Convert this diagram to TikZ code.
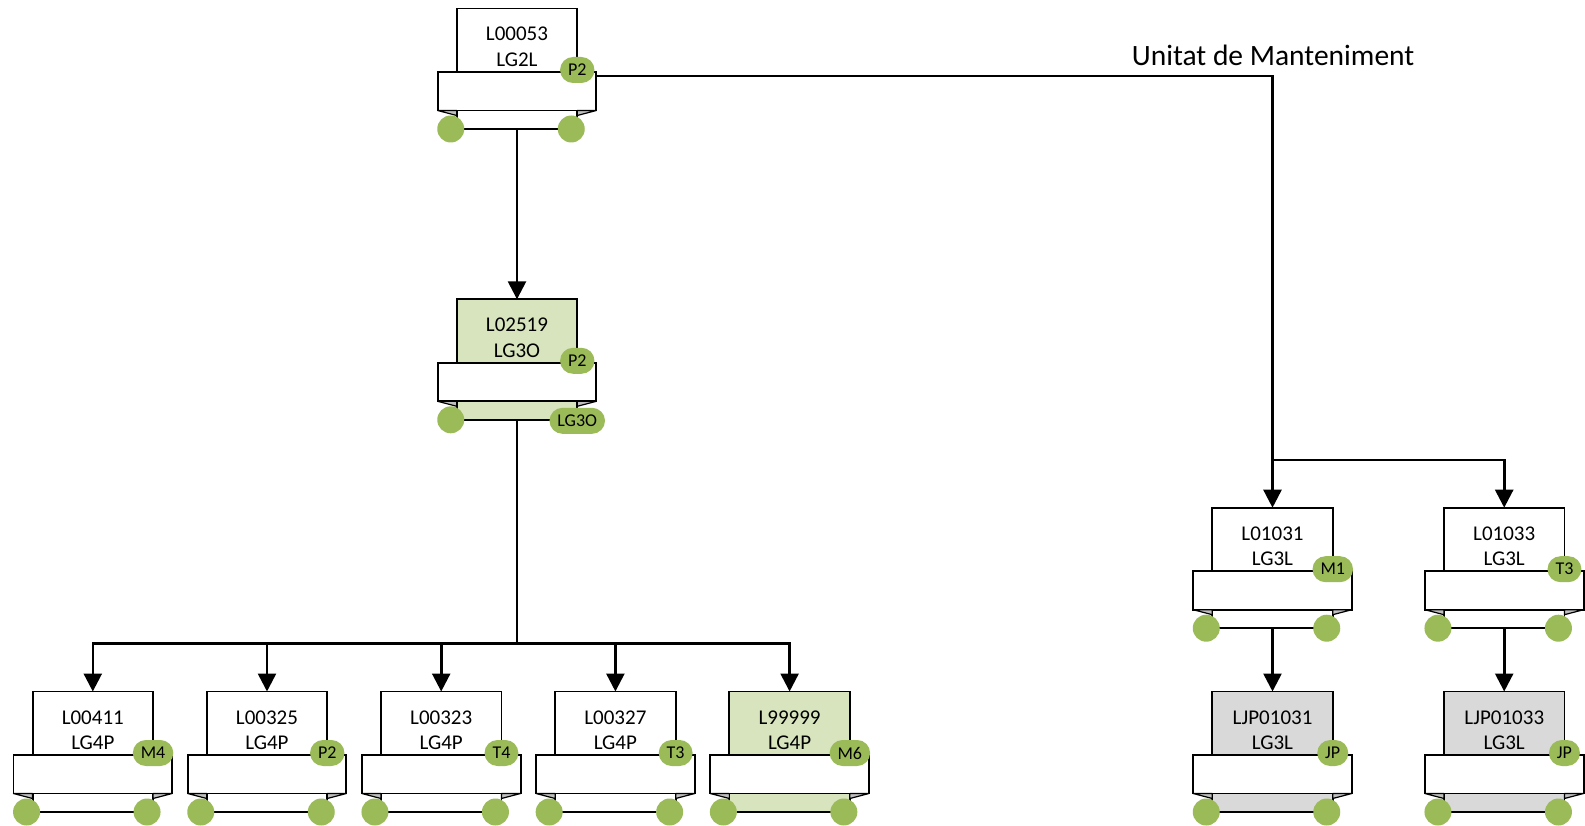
\documentclass[tikz,border=0pt]{standalone}
\usepackage{fontspec}
\setmainfont{Carlito}
\usetikzlibrary{arrows.meta}
\definecolor{cgreen}{HTML}{9BBB59}
\definecolor{lgreen}{HTML}{D7E4BD}
\definecolor{lgrey}{HTML}{D9D9D9}
\definecolor{foldc}{HTML}{BFBFBF}
\tikzset{
 topbox/.style={draw, line width=1.9pt, minimum width=120.5pt, minimum height=63.5pt, inner sep=0pt, outer sep=0pt, anchor=north},
 bannerbox/.style={draw, fill=white, line width=1.9pt, minimum width=158.7pt, minimum height=38.5pt, inner sep=0pt, outer sep=0pt, anchor=north},
 stripbox/.style={draw, line width=1.9pt, minimum width=120.5pt, minimum height=18.5pt, inner sep=0pt, outer sep=0pt, anchor=north},
 foldtri/.style={fill=foldc, draw, line width=1.2pt, line join=round},
 dot/.style={circle, fill=cgreen, minimum size=27pt, inner sep=0pt, outer sep=0pt},
 badge/.style={fill=cgreen, rounded corners=13pt, minimum height=26pt, minimum width=26pt, inner xsep=8pt, inner ysep=0pt, outer sep=0pt, font=\fontsize{18}{20}\selectfont},
 txt/.style={font=\fontsize{21}{25}\selectfont, anchor=base, inner sep=0pt},
 conn/.style={line width=2.6pt, -{Triangle[width=18pt,length=18pt]}},
 wire/.style={line width=2.6pt},
}
\newcommand{\orgbox}[8]{%
 \node[topbox, fill=#4] (#1) at (#2,#3) {};
 \node[bannerbox] (#1-b) at (#1.south) {};
 \node[stripbox, fill=#4] (#1-s) at (#1-b.south) {};
 \draw[foldtri] (#1-b.south west) -- (#1-s.north west) -- ([yshift=-5pt]#1-s.north west) -- cycle;
 \draw[foldtri] (#1-b.south east) -- (#1-s.north east) -- ([yshift=-5pt]#1-s.north east) -- cycle;
 \node[txt] (#1-t1) at ([yshift=-32.5pt]#1.north) {#5};
 \node[txt] (#1-t2) at ([yshift=-58pt]#1.north) {#6};
 \node[dot] (#1-c1) at ([xshift=-6pt]#1-s.south west) {};
 \def\tmpb{#8}%
 \ifx\tmpb\empty
   \node[dot] (#1-c2) at ([xshift=-6pt]#1-s.south east) {};
 \else
   \node[badge] (#1-c2) at ([yshift=-1pt]#1-s.south east) {#8};
 \fi
 \node[badge] (#1-g) at ([yshift=2pt]#1.south east) {#7};
}
\begin{document}
\begin{tikzpicture}[x=1pt,y=-1pt]
\useasboundingbox (0,0) rectangle (1585,826);
\orgbox{L00053}{517}{8.5}{white}{L00053}{LG2L}{P2}{}
\orgbox{L02519}{517}{299.3}{lgreen}{L02519}{LG3O}{P2}{LG3O}
\orgbox{L00411}{92.8}{691.5}{white}{L00411}{LG4P}{M4}{}
\orgbox{L00325}{267}{691.5}{white}{L00325}{LG4P}{P2}{}
\orgbox{L00323}{441.2}{691.5}{white}{L00323}{LG4P}{T4}{}
\orgbox{L00327}{615.4}{691.5}{white}{L00327}{LG4P}{T3}{}
\orgbox{L99999}{789.6}{691.5}{lgreen}{L99999}{LG4P}{M6}{}
\orgbox{L01031}{1272.5}{507.7}{white}{L01031}{LG3L}{M1}{}
\orgbox{L01033}{1504.2}{507.7}{white}{L01033}{LG3L}{T3}{}
\orgbox{LJP01031}{1272.5}{691.5}{lgrey}{LJP01031}{LG3L}{JP}{}
\orgbox{LJP01033}{1504.2}{691.5}{lgrey}{LJP01033}{LG3L}{JP}{}
\node[font=\fontsize{29.5}{34}\selectfont, anchor=base west, inner sep=0pt] (title) at (1131.7,66) {Unitat de Manteniment};
% connectors
\draw[conn] (L00053-s.south) -- (L02519.north);
\draw[conn] ([yshift=-4pt]L00053-b.north east) -| (L01031.north);
\coordinate (rbus) at (1272.5,460);
\draw[conn] (rbus) -| (L01033.north);
\coordinate (lbus) at (517,643.3);
\draw[wire] (L02519-s.south) -- (lbus);
\foreach \c in {L00411,L00325,L00323,L00327,L99999}{
  \draw[conn] (lbus) -| (\c.north);
}
\draw[conn] (L01031-s.south) -- (LJP01031.north);
\draw[conn] (L01033-s.south) -- (LJP01033.north);
\end{tikzpicture}
\end{document}
